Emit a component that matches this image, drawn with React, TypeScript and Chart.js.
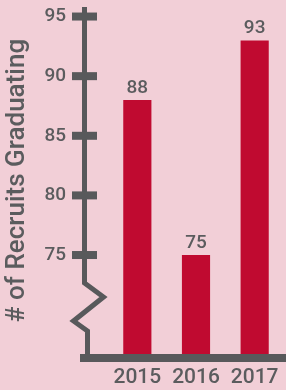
import React, { useEffect, useRef } from 'react';
import { Chart, registerables } from 'chart.js';

Chart.register(...registerables);

const YEARS = ['2015', '2016', '2017'];
const GRADUATES = [88, 75, 93];
const Y_TICKS = [75, 80, 85, 90, 95];
const Y_MIN = 66.7;
const Y_MAX = 95.8;
const AXIS_TITLE = '# of Recruits Graduating';

const BG = '#f2cfd7';
const BAR = '#c00a30';
const GRAY = '#58595b';
const TEXT = '#5b5c5e';

const breakAxisPlugin = {
  id: 'breakAxis',
  afterDatasetsDraw(chart: any) {
    const { ctx, chartArea, scales } = chart;
    const y = scales.y;
    const ax = chartArea.left - 23.5;
    const b = chartArea.bottom;
    ctx.save();
    ctx.strokeStyle = GRAY;
    ctx.fillStyle = GRAY;
    ctx.lineWidth = 5;
    ctx.lineJoin = 'miter';
    ctx.lineCap = 'butt';
    ctx.beginPath();
    ctx.moveTo(ax, chartArea.top);
    ctx.lineTo(ax, b - 71);
    ctx.lineTo(ax + 19, b - 57);
    ctx.lineTo(ax - 11, b - 33);
    ctx.lineTo(ax + 3, b - 23);
    ctx.lineTo(ax + 3, b + 4);
    ctx.stroke();
    y.ticks.forEach((t: any) => {
      const py = y.getPixelForValue(t.value);
      ctx.fillRect(ax - 12.5, py - 4, 25, 8);
    });
    ctx.fillRect(ax - 4.5, b, chart.width - (ax - 4.5), 8);
    ctx.restore();
  },
};

const valueLabelPlugin = {
  id: 'valueLabels',
  afterDatasetsDraw(chart: any) {
    const { ctx } = chart;
    const meta = chart.getDatasetMeta(0);
    ctx.save();
    ctx.font = '500 19px Roboto';
    ctx.fillStyle = TEXT;
    ctx.textAlign = 'center';
    ctx.textBaseline = 'alphabetic';
    meta.data.forEach((bar: any, i: number) => {
      ctx.fillText(String(GRADUATES[i]), bar.x, bar.y - 7);
    });
    ctx.restore();
  },
};

export default function App() {
  const canvasRef = useRef<HTMLCanvasElement | null>(null);

  useEffect(() => {
    if (!canvasRef.current) return;
    const chart = new Chart(canvasRef.current, {
      type: 'bar',
      data: {
        labels: YEARS,
        datasets: [
          {
            data: GRADUATES,
            backgroundColor: BAR,
            borderWidth: 0,
            barPercentage: 0.48,
            categoryPercentage: 1,
          },
        ],
      },
      options: {
        responsive: false,
        animation: false,
        layout: { padding: { top: 7, right: 2, left: 0, bottom: 0 } },
        plugins: {
          legend: { display: false },
          tooltip: { enabled: false },
        },
        scales: {
          x: {
            type: 'category',
            offset: true,
            grid: { display: false, drawTicks: false },
            border: { display: false },
            ticks: {
              font: { family: 'Roboto', size: 21, weight: '500' },
              color: TEXT,
              padding: 11,
              maxRotation: 0,
              autoSkip: false,
            },
            afterFit: (s: any) => {
              s.height = 36;
              s.paddingLeft = 0;
              s.paddingRight = 0;
            },
          },
          y: {
            type: 'linear',
            min: Y_MIN,
            max: Y_MAX,
            grid: { display: false, drawTicks: false },
            border: { display: false },
            afterBuildTicks: (s: any) => {
              s.ticks = Y_TICKS.map((v) => ({ value: v }));
            },
            ticks: {
              font: { family: 'Roboto', size: 19, weight: '500' },
              color: TEXT,
              padding: 42,
            },
            title: {
              display: true,
              text: AXIS_TITLE,
              font: { family: 'Roboto', size: 26, weight: '500' },
              color: TEXT,
              padding: { top: 2, bottom: 0 },
            },
            afterFit: (s: any) => {
              s.width = 108;
              s.paddingTop = 0;
              s.paddingBottom = 0;
            },
          },
        },
      } as any,
      plugins: [breakAxisPlugin, valueLabelPlugin],
    });
    return () => chart.destroy();
  }, []);

  return (
    <div
      style={{
        position: 'fixed',
        left: 0,
        top: 0,
        width: 286,
        height: 390,
        background: BG,
      }}
    >
      <canvas ref={canvasRef} width={286} height={390} style={{ display: 'block' }} />
    </div>
  );
}
